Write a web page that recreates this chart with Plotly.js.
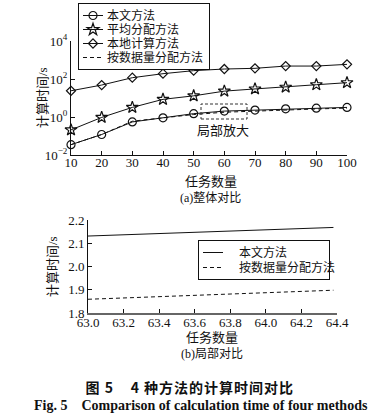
<!DOCTYPE html>
<html>
<head>
<meta charset="utf-8">
<script src="https://cdn.plot.ly/plotly-3.0.1.min.js"></script>
<style>
html,body{margin:0;padding:0;background:#fff}
#chart{width:378px;height:420px}
.caption-cn text{letter-spacing:1px}
</style>
</head>
<body>
<div id="chart"></div>
<script>
// ---- data ----
const tasks = [10, 20, 30, 40, 50, 60, 70, 80, 90, 100];
const ours = [0.035, 0.12, 0.55, 0.9, 1.5, 2.05, 2.32, 2.7, 2.9, 3.2];
const avgAlloc = [0.21, 0.95, 3.2, 8.5, 13, 23, 30, 37, 50, 64];
const localCalc = [24, 48, 117, 190, 275, 335, 365, 480, 480, 590];
const dataAlloc = [0.035, 0.12, 0.6, 0.9, 1.35, 1.78, 2.06, 2.45, 2.65, 2.95];

const zoomTasks = [63.0, 64.38];
const zoomOurs = [2.131, 2.168];
const zoomDataAlloc = [1.859, 1.898];

const names = ['本文方法', '平均分配方法', '本地计算方法', '按数据量分配方法'];
const topTickVals = [0.01, 1, 100, 10000];
const topTickText = ['10<sup>−2</sup>', '10<sup>0</sup>', '10<sup>2</sup>', '10<sup>4</sup>'];
const zoomXTicks = [63.0, 63.2, 63.4, 63.6, 63.8, 64.0, 64.2, 64.4];
const zoomYTicks = [1.8, 1.9, 2.0, 2.1, 2.2];

// ---- styling ----
const W = 378, H = 420;
const FONT = 'Liberation Serif, Noto Sans CJK SC, serif';
const INK = '#111';
const px = v => v / W;
const py = v => 1 - v / H;

const traces = [
  {x: tasks, y: ours, name: names[0], mode: 'lines+markers', cliponaxis: false,
   line: {color: INK, width: 1}, marker: {symbol: 'circle-open', size: 8, color: INK, line: {width: 1.2}},
   xaxis: 'x', yaxis: 'y', legend: 'legend'},
  {x: tasks, y: avgAlloc, name: names[1], mode: 'lines+markers', cliponaxis: false,
   line: {color: INK, width: 1}, marker: {symbol: 'star-open', size: 9, color: INK, line: {width: 1.2}},
   xaxis: 'x', yaxis: 'y', legend: 'legend'},
  {x: tasks, y: localCalc, name: names[2], mode: 'lines+markers', cliponaxis: false,
   line: {color: INK, width: 1}, marker: {symbol: 'diamond-open', size: 7, color: INK, line: {width: 1.2}},
   xaxis: 'x', yaxis: 'y', legend: 'legend'},
  {x: tasks, y: dataAlloc, name: names[3], mode: 'lines', cliponaxis: false,
   line: {color: INK, width: 1, dash: '4px,3px'},
   xaxis: 'x', yaxis: 'y', legend: 'legend'},
  {x: zoomTasks, y: zoomOurs, name: names[0], mode: 'lines',
   line: {color: INK, width: 1}, xaxis: 'x2', yaxis: 'y2', legend: 'legend2'},
  {x: zoomTasks, y: zoomDataAlloc, name: names[3], mode: 'lines',
   line: {color: INK, width: 1, dash: '4px,3px'}, xaxis: 'x2', yaxis: 'y2', legend: 'legend2'}
];

const axisCommon = {
  showgrid: false, zeroline: false, showline: true, linecolor: INK, linewidth: 1,
  ticks: 'inside', ticklen: 4, tickcolor: INK, tickfont: {family: FONT, size: 13, color: INK}
};

function ann(text, x, y, size, extra) {
  return Object.assign({text: text, xref: 'paper', yref: 'paper', x: px(x), y: py(y),
    xanchor: 'center', yanchor: 'middle', showarrow: false,
    font: {family: FONT, size: size, color: INK}}, extra || {});
}

const layout = {
  width: W, height: H,
  margin: {l: 0, r: 0, t: 0, b: 0},
  paper_bgcolor: '#fff', plot_bgcolor: '#fff',
  font: {family: FONT, color: INK, size: 13},
  xaxis: Object.assign({}, axisCommon, {
    domain: [px(71), px(347)], anchor: 'y', range: [10, 100],
    tickmode: 'array', tickvals: tasks, ticklabelstandoff: -5
  }),
  yaxis: Object.assign({}, axisCommon, {
    domain: [py(155), py(41)], anchor: 'x', type: 'log', range: [-2, 4],
    tickmode: 'array', tickvals: topTickVals, ticktext: topTickText
  }),
  xaxis2: Object.assign({}, axisCommon, {
    domain: [px(88), px(337)], anchor: 'y2', range: [63.0, 64.4],
    linecolor: '#666', linewidth: 2,
    tickmode: 'array', tickvals: zoomXTicks, tickformat: '.1f', ticklabelstandoff: -4
  }),
  yaxis2: Object.assign({}, axisCommon, {
    domain: [py(313), py(220)], anchor: 'x2', range: [1.8, 2.2],
    tickmode: 'array', tickvals: zoomYTicks, tickformat: '.1f'
  }),
  legend: {
    x: px(78), y: py(3), xanchor: 'left', yanchor: 'top',
    bgcolor: '#fff', bordercolor: INK, borderwidth: 1,
    font: {family: FONT, size: 12, color: INK}, tracegroupgap: 0, itemwidth: 30
  },
  legend2: {
    x: px(198), y: py(240), xanchor: 'left', yanchor: 'top',
    bgcolor: '#fff', bordercolor: INK, borderwidth: 1,
    font: {family: FONT, size: 12, color: INK}, tracegroupgap: 0, itemwidth: 30
  },
  shapes: [
    {type: 'rect', xref: 'paper', yref: 'paper', x0: px(201), x1: px(247), y0: py(119), y1: py(104),
     line: {color: '#333', width: 1, dash: '3px,2px'}}
  ],
  annotations: [
    ann('计算时间/s', 42, 98, 13, {textangle: -90}),
    ann('计算时间/s', 52, 267, 13, {textangle: -90}),
    ann('任务数量', 211, 181, 13),
    ann('任务数量', 212, 337, 13),
    ann('局部放大', 223, 130, 13),
    ann('(a)整体对比', 210, 197, 12),
    ann('(b)局部对比', 212, 353, 12),
    ann('<b>图 5    4 种方法的计算时间对比</b>', 190, 387, 14,
        {font: {family: 'Noto Sans CJK SC, sans-serif', size: 14, color: INK}}),
    ann('<b>Fig. 5    Comparison of calculation time of four methods</b>', 201, 405, 14,
        {font: {family: 'Liberation Serif, serif', size: 14, color: INK}})
  ],
  showlegend: true
};

// tighten the legend rows and symbol width so they match the compact legend of the reference
function tightenLegend(cls, pitch) {
  const g = document.querySelector('g.' + cls);
  if (!g) return;
  const items = Array.from(g.querySelectorAll('g.traces'));
  if (items.length < 1) return;
  const pos = items.map(it => {
    const m = /translate\(\s*([-\d.e]+)[ ,]+([-\d.e]+)\s*\)/.exec(it.getAttribute('transform') || '');
    return m ? [+m[1], +m[2]] : [0, 0];
  });
  const oldPitch = items.length > 1 ? pos[1][1] - pos[0][1] : pitch;
  items.forEach((it, i) => {
    it.setAttribute('transform', 'translate(' + pos[i][0] + ',' + (pos[0][1] + i * pitch - 3) + ')');
    const t = it.querySelector('text.legendtext');
    if (t) t.setAttribute('x', +t.getAttribute('x') - 12);
    it.querySelectorAll('.legendlines path').forEach(p => p.setAttribute('d', 'M4,0h20'));
    it.querySelectorAll('.legendsymbols path').forEach(p => p.setAttribute('transform', 'translate(14,0)'));
  });
  const bg = g.querySelector('rect.bg');
  if (bg) {
    const h = +bg.getAttribute('height');
    const w = +bg.getAttribute('width');
    bg.setAttribute('height', h - (items.length - 1) * (oldPitch - pitch) - 6);
    bg.setAttribute('width', w - 12);
  }
}

Plotly.newPlot('chart', traces, layout, {displayModeBar: false, staticPlot: true}).then(() => {
  tightenLegend('legend', 14);
  tightenLegend('legend2', 15);
  const anns = document.querySelectorAll('g.annotation');
  anns.forEach(a => { if (/图 5/.test(a.textContent)) a.classList.add('caption-cn'); });
});
</script>
</body>
</html>
